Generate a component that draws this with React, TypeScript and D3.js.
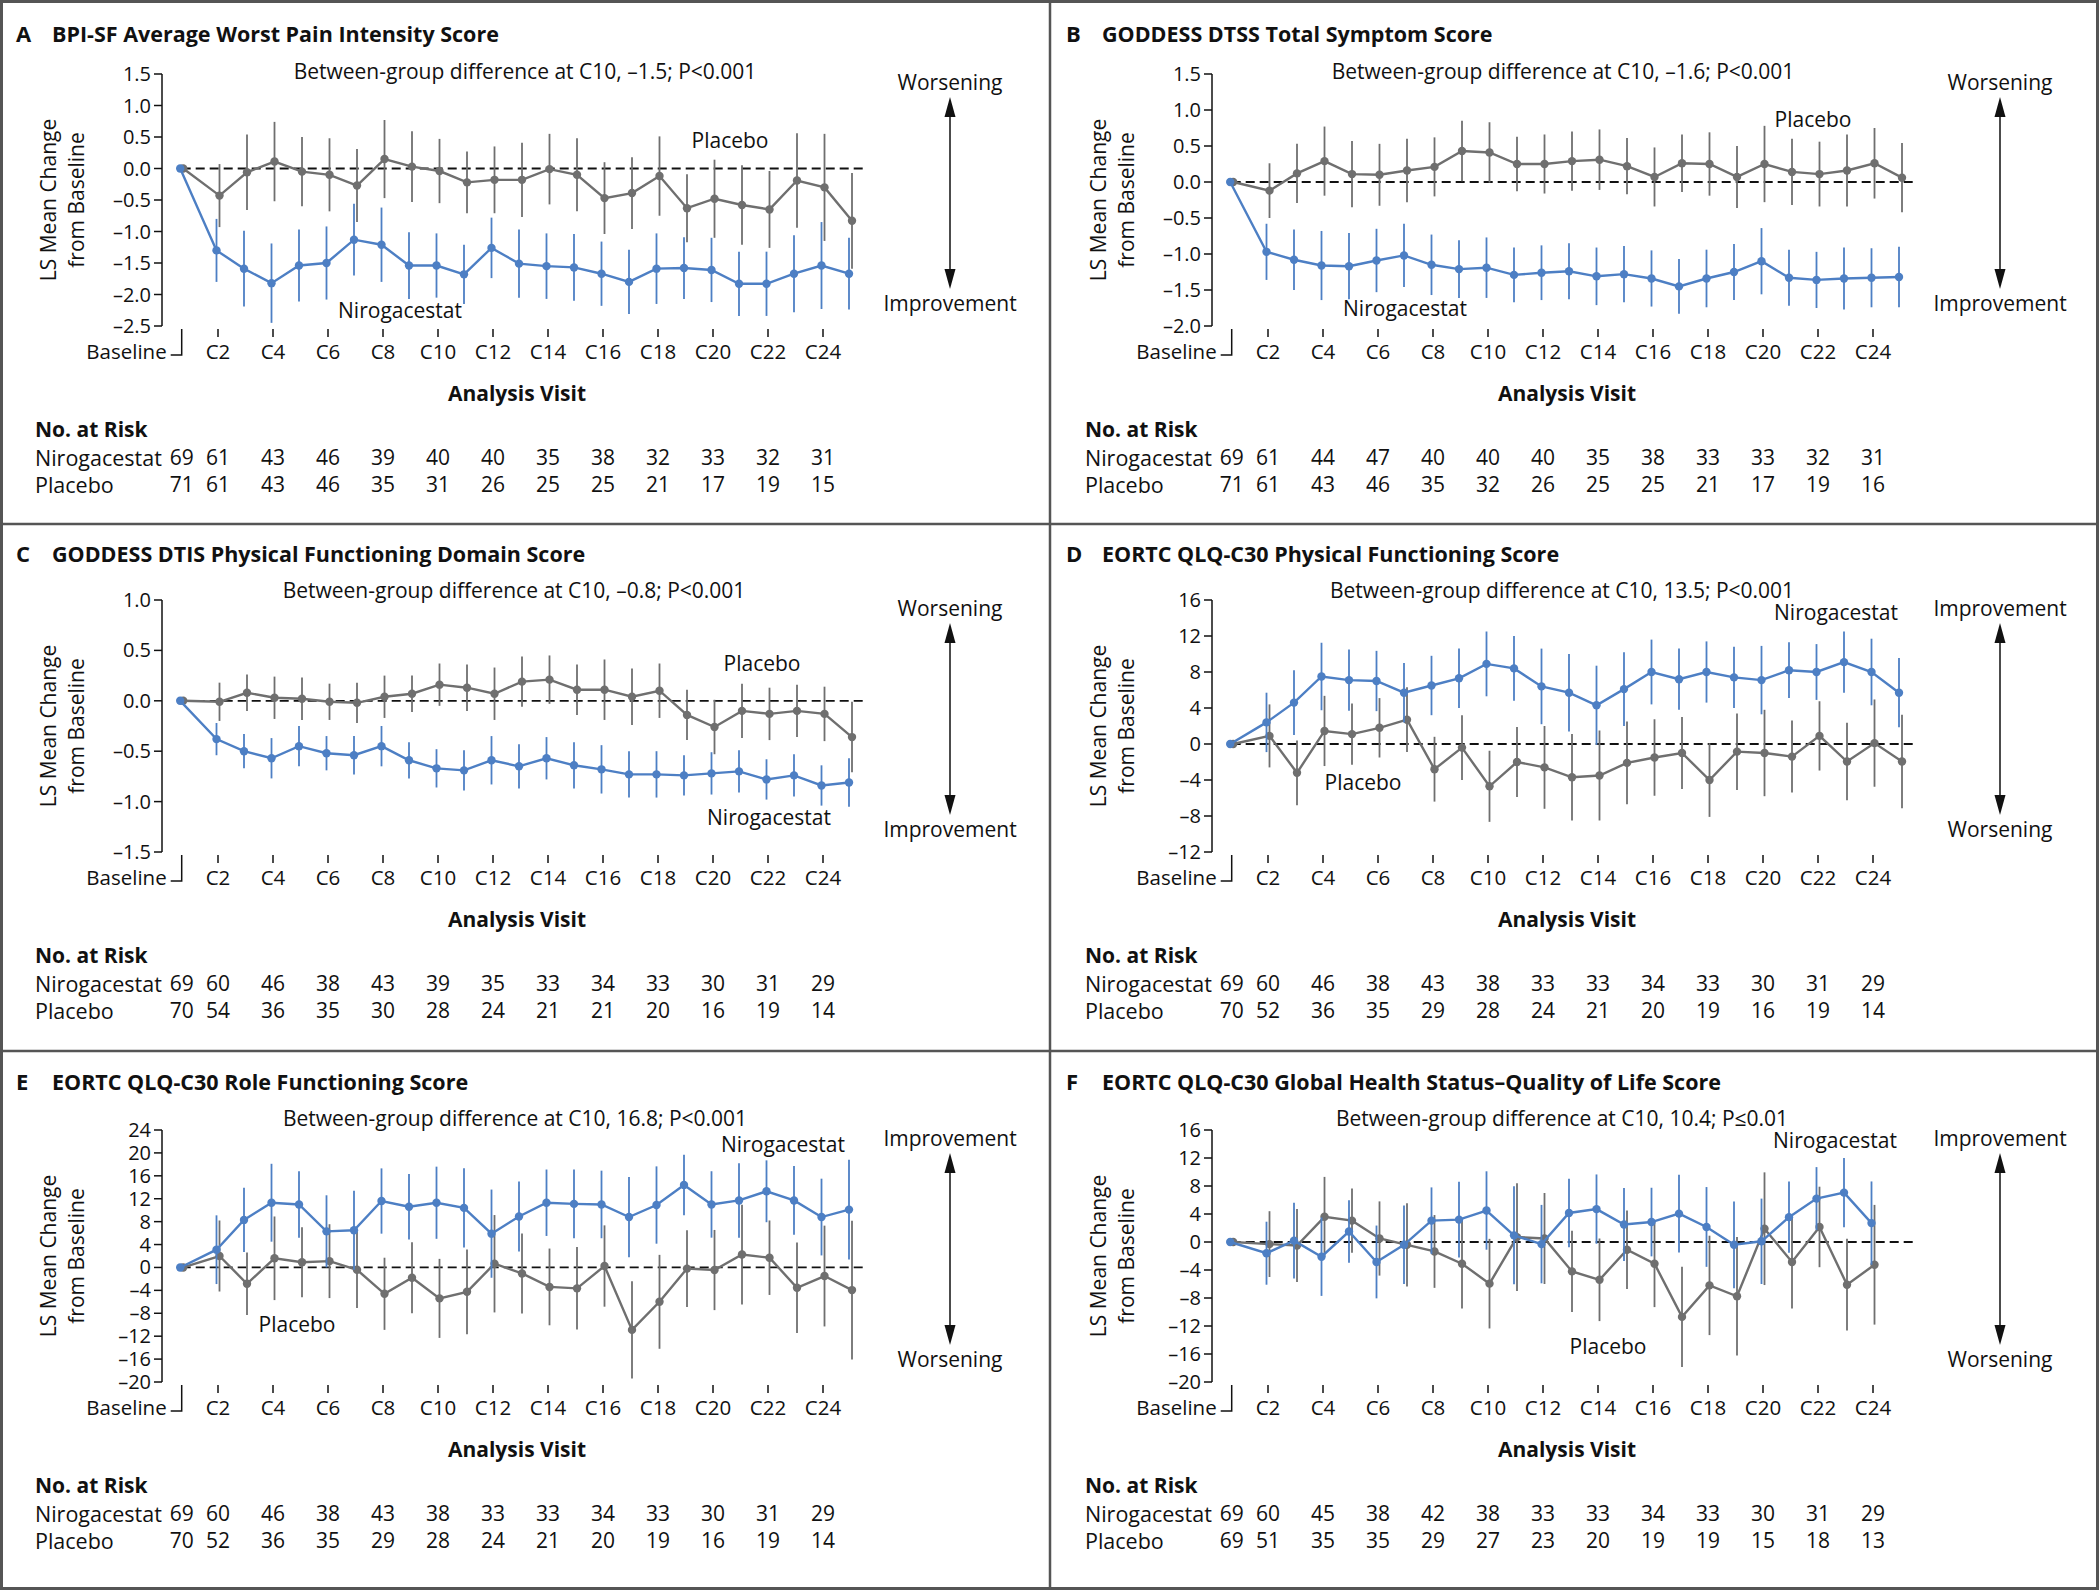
import React, {useEffect, useRef} from 'react'
import * as d3 from 'd3'

const width = 2100
const height = 1593
const font = "'Open Sans', 'DejaVu Sans', sans-serif"
const blue = '#4d7fc4'
const gray = '#6f6f6f'

// visits after baseline: C2..C25 (panel F stops at C24)
const cycles = d3.range(2, 26)
const baselinePos = 0.68
const tickCycles = d3.range(2, 25, 2)
const tickLabels = ['Baseline', ...tickCycles.map(c => `C${c}`)]

// A  BPI-SF
const aNiro = [-1.3, -1.59, -1.82, -1.54, -1.5, -1.13, -1.21, -1.54, -1.54, -1.68, -1.26, -1.51, -1.55, -1.57, -1.67, -1.8, -1.59, -1.58, -1.61, -1.83, -1.83, -1.67, -1.54, -1.67]
const aNiroErr = [0.5, 0.6, 0.63, 0.57, 0.58, 0.57, 0.59, 0.53, 0.51, 0.47, 0.48, 0.54, 0.52, 0.53, 0.51, 0.51, 0.56, 0.49, 0.51, 0.51, 0.51, 0.61, 0.69, 0.57]
const aPlac = [-0.43, -0.06, 0.11, -0.05, -0.1, -0.27, 0.15, 0.03, -0.04, -0.22, -0.18, -0.18, -0.01, -0.1, -0.47, -0.39, -0.12, -0.63, -0.48, -0.58, -0.65, -0.19, -0.3, -0.83]
const aPlacErr = [0.5, 0.6, 0.63, 0.55, 0.58, 0.58, 0.62, 0.56, 0.51, 0.49, 0.53, 0.59, 0.56, 0.58, 0.57, 0.57, 0.63, 0.54, 0.62, 0.63, 0.61, 0.75, 0.85, 0.76]
const aRiskNiro = [69, 61, 43, 46, 39, 40, 40, 35, 38, 32, 33, 32, 31]
const aRiskPlac = [71, 61, 43, 46, 35, 31, 26, 25, 25, 21, 17, 19, 15]

// B  GODDESS DTSS
const bNiro = [-0.97, -1.08, -1.16, -1.17, -1.09, -1.02, -1.15, -1.21, -1.19, -1.29, -1.26, -1.24, -1.31, -1.28, -1.34, -1.45, -1.34, -1.25, -1.1, -1.33, -1.36, -1.34, -1.33, -1.32]
const bNiroErr = [0.39, 0.42, 0.48, 0.46, 0.44, 0.44, 0.42, 0.4, 0.42, 0.38, 0.38, 0.39, 0.4, 0.39, 0.39, 0.38, 0.4, 0.39, 0.46, 0.39, 0.39, 0.43, 0.41, 0.42]
const bPlac = [-0.12, 0.12, 0.29, 0.11, 0.1, 0.16, 0.21, 0.43, 0.41, 0.25, 0.25, 0.29, 0.31, 0.22, 0.07, 0.26, 0.25, 0.07, 0.25, 0.14, 0.11, 0.16, 0.26, 0.06]
const bPlacErr = [0.38, 0.41, 0.48, 0.46, 0.43, 0.44, 0.41, 0.42, 0.42, 0.38, 0.41, 0.41, 0.42, 0.39, 0.41, 0.4, 0.44, 0.43, 0.53, 0.46, 0.45, 0.5, 0.49, 0.48]
const bRiskNiro = [69, 61, 44, 47, 40, 40, 40, 35, 38, 33, 33, 32, 31]
const bRiskPlac = [71, 61, 43, 46, 35, 32, 26, 25, 25, 21, 17, 19, 16]

// C  GODDESS DTIS
const cNiro = [-0.38, -0.5, -0.57, -0.45, -0.52, -0.54, -0.45, -0.59, -0.67, -0.69, -0.59, -0.65, -0.57, -0.64, -0.68, -0.73, -0.73, -0.74, -0.72, -0.7, -0.78, -0.74, -0.84, -0.81]
const cNiroErr = [0.16, 0.17, 0.2, 0.2, 0.17, 0.19, 0.2, 0.18, 0.19, 0.2, 0.24, 0.22, 0.21, 0.23, 0.24, 0.23, 0.23, 0.2, 0.21, 0.21, 0.2, 0.21, 0.2, 0.24]
const cPlac = [-0.01, 0.08, 0.03, 0.02, -0.01, -0.02, 0.04, 0.07, 0.16, 0.13, 0.07, 0.19, 0.21, 0.11, 0.11, 0.04, 0.1, -0.14, -0.26, -0.1, -0.13, -0.1, -0.13, -0.36]
const cPlacErr = [0.19, 0.18, 0.21, 0.21, 0.18, 0.2, 0.21, 0.18, 0.21, 0.23, 0.26, 0.25, 0.24, 0.25, 0.3, 0.28, 0.27, 0.25, 0.27, 0.27, 0.26, 0.26, 0.27, 0.35]
const cRiskNiro = [69, 60, 46, 38, 43, 39, 35, 33, 34, 33, 30, 31, 29]
const cRiskPlac = [70, 54, 36, 35, 30, 28, 24, 21, 21, 20, 16, 19, 14]

// D  EORTC physical functioning
const dNiro = [2.4, 4.6, 7.5, 7.1, 7.0, 5.7, 6.5, 7.3, 8.9, 8.4, 6.4, 5.7, 4.3, 6.1, 8.0, 7.2, 8.0, 7.4, 7.1, 8.2, 8.0, 9.1, 8.0, 5.7]
const dNiroErr = [3.3, 3.6, 3.75, 3.4, 3.35, 3.3, 3.3, 3.3, 3.6, 3.6, 4.2, 4.3, 4.4, 4.1, 3.6, 3.4, 3.4, 3.4, 3.8, 3.1, 3.1, 3.4, 3.7, 3.85]
const dPlac = [0.9, -3.2, 1.45, 1.1, 1.8, 2.7, -2.8, -0.4, -4.7, -2.0, -2.6, -3.7, -3.5, -2.1, -1.5, -1.0, -4.0, -0.85, -1.0, -1.4, 0.9, -1.95, 0.1, -1.95]
const dPlacErr = [3.5, 3.6, 3.9, 3.4, 3.3, 3.6, 3.6, 3.6, 3.95, 3.9, 4.6, 4.8, 5.0, 4.6, 4.25, 4.0, 4.1, 4.25, 4.8, 4.0, 3.85, 4.3, 4.85, 5.2]
const dRiskNiro = [69, 60, 46, 38, 43, 38, 33, 33, 34, 33, 30, 31, 29]
const dRiskPlac = [70, 52, 36, 35, 29, 28, 24, 21, 20, 19, 16, 19, 14]

// E  EORTC role functioning
const eNiro = [3.1, 8.3, 11.3, 11.0, 6.3, 6.5, 11.6, 10.6, 11.3, 10.4, 5.9, 8.9, 11.3, 11.1, 11.0, 8.8, 10.9, 14.4, 11.0, 11.7, 13.3, 11.7, 8.8, 10.1]
const eNiroErr = [6.0, 5.6, 6.8, 5.8, 6.3, 6.9, 5.7, 5.7, 6.3, 6.9, 7.7, 6.1, 5.8, 6.0, 5.9, 7.0, 6.75, 5.3, 5.8, 6.5, 5.4, 6.0, 6.7, 8.7]
const ePlac = [2.0, -2.85, 1.6, 0.9, 1.1, -0.4, -4.6, -1.8, -5.4, -4.25, 0.65, -1.05, -3.4, -3.65, 0.25, -10.9, -6.0, -0.2, -0.45, 2.25, 1.7, -3.55, -1.5, -3.95]
const ePlacErr = [6.2, 5.45, 7.3, 6.1, 6.45, 6.7, 6.3, 6.2, 6.9, 7.4, 8.5, 7.0, 6.7, 7.2, 7.1, 8.5, 8.2, 6.7, 7.0, 8.7, 6.5, 7.9, 8.8, 12.1]
const eRiskNiro = [69, 60, 46, 38, 43, 38, 33, 33, 34, 33, 30, 31, 29]
const eRiskPlac = [70, 52, 36, 35, 29, 28, 24, 21, 20, 19, 16, 19, 14]

// F  EORTC global health status (C2..C24)
const fNiro = [-1.6, 0.2, -2.1, 1.5, -2.85, -0.4, 3.05, 3.2, 4.5, 0.95, -0.3, 4.15, 4.7, 2.5, 2.85, 4.05, 2.15, -0.4, 0.1, 3.55, 6.2, 7.05, 2.7]
const fNiroErr = [4.5, 5.4, 5.6, 4.45, 5.2, 5.6, 4.75, 5.4, 5.6, 7.0, 5.6, 4.9, 4.95, 5.2, 4.9, 5.55, 5.7, 6.2, 6.1, 5.1, 4.5, 4.95, 5.95]
const fPlac = [-0.3, -0.5, 3.6, 3.05, 0.5, -0.4, -1.35, -3.1, -5.95, 0.7, 0.5, -4.2, -5.4, -1.1, -3.1, -10.7, -6.2, -7.75, 1.9, -2.85, 2.15, -6.1, -3.25]
const fPlacErr = [4.7, 5.2, 5.7, 4.6, 5.3, 5.95, 5.2, 6.4, 6.4, 7.7, 6.5, 5.8, 5.9, 5.6, 6.2, 7.15, 7.1, 8.45, 8.05, 6.65, 5.75, 6.55, 8.55]
const fRiskNiro = [69, 60, 45, 38, 42, 38, 33, 33, 34, 33, 30, 31, 29]
const fRiskPlac = [69, 51, 35, 35, 29, 27, 23, 20, 19, 19, 15, 18, 13]

const colX = [0, 1050]
const rowY = [0, 526, 1056]
const titleY = [34, 28, 26]
const diffY = [72, 65, 63]

const panels = [
  {letter: 'A', title: 'BPI-SF Average Worst Pain Intensity Score', col: 0, row: 0,
    diff: 'Between-group difference at C10, \u20131.5; P<0.001', diffX: 525,
    yDomain: [-2.5, 1.5], yStep: 0.5, dec: 1,
    niro: aNiro, niroErr: aNiroErr, plac: aPlac, placErr: aPlacErr, riskNiro: aRiskNiro, riskPlac: aRiskPlac,
    up: 'Worsening', down: 'Improvement', niroLab: [400, 311], placLab: [730, 141]},
  {letter: 'B', title: 'GODDESS DTSS Total Symptom Score', col: 1, row: 0,
    diff: 'Between-group difference at C10, \u20131.6; P<0.001', diffX: 513,
    yDomain: [-2.0, 1.5], yStep: 0.5, dec: 1,
    niro: bNiro, niroErr: bNiroErr, plac: bPlac, placErr: bPlacErr, riskNiro: bRiskNiro, riskPlac: bRiskPlac,
    up: 'Worsening', down: 'Improvement', niroLab: [355, 309], placLab: [763, 120]},
  {letter: 'C', title: 'GODDESS DTIS Physical Functioning Domain Score', col: 0, row: 1,
    diff: 'Between-group difference at C10, \u20130.8; P<0.001', diffX: 514,
    yDomain: [-1.5, 1.0], yStep: 0.5, dec: 1,
    niro: cNiro, niroErr: cNiroErr, plac: cPlac, placErr: cPlacErr, riskNiro: cRiskNiro, riskPlac: cRiskPlac,
    up: 'Worsening', down: 'Improvement', niroLab: [769, 292], placLab: [762, 138]},
  {letter: 'D', title: 'EORTC QLQ-C30 Physical Functioning Score', col: 1, row: 1,
    diff: 'Between-group difference at C10, 13.5; P<0.001', diffX: 512,
    yDomain: [-12, 16], yStep: 4, dec: 0,
    niro: dNiro, niroErr: dNiroErr, plac: dPlac, placErr: dPlacErr, riskNiro: dRiskNiro, riskPlac: dRiskPlac,
    up: 'Improvement', down: 'Worsening', niroLab: [786, 87], placLab: [313, 257]},
  {letter: 'E', title: 'EORTC QLQ-C30 Role Functioning Score', col: 0, row: 2,
    diff: 'Between-group difference at C10, 16.8; P<0.001', diffX: 515,
    yDomain: [-20, 24], yStep: 4, dec: 0,
    niro: eNiro, niroErr: eNiroErr, plac: ePlac, placErr: ePlacErr, riskNiro: eRiskNiro, riskPlac: eRiskPlac,
    up: 'Improvement', down: 'Worsening', niroLab: [783, 89], placLab: [297, 269]},
  {letter: 'F', title: 'EORTC QLQ-C30 Global Health Status\u2013Quality of Life Score', col: 1, row: 2,
    diff: 'Between-group difference at C10, 10.4; P\u22640.01', diffX: 512,
    yDomain: [-20, 16], yStep: 4, dec: 0,
    niro: fNiro, niroErr: fNiroErr, plac: fPlac, placErr: fPlacErr, riskNiro: fRiskNiro, riskPlac: fRiskPlac,
    up: 'Improvement', down: 'Worsening', niroLab: [785, 85], placLab: [558, 291]},
]

const fmt = (v, dec) => d3.format(`.${dec}f`)(v).replace(/[-\u2212]/g, '\u2013')

const App = () => {
  const chartRef = useRef(null)

  useEffect(() => {
    const svg = d3.select(chartRef.current)
    svg.selectAll('*').remove()
    svg.append('rect').attr('width', width).attr('height', height).attr('fill', '#fff')
    panels.forEach(p => drawPanel(svg, p))

    // frame and dividers
    const frame = svg.append('g').attr('fill', 'none').attr('stroke', '#555').attr('stroke-width', 3)
    frame.append('rect').attr('x', 1.5).attr('y', 1.5).attr('width', 2096).attr('height', 1587)
    frame.append('line').attr('x1', 1050).attr('x2', 1050).attr('y1', 1.5).attr('y2', 1588.5).attr('stroke-width', 2.5)
    frame.append('line').attr('x1', 1.5).attr('x2', 2097.5).attr('y1', 524).attr('y2', 524).attr('stroke-width', 2.5)
    frame.append('line').attr('x1', 1.5).attr('x2', 2097.5).attr('y1', 1051).attr('y2', 1051).attr('stroke-width', 2.5)
  }, [])

  const drawPanel = (svg, p) => {
    const g = svg.append('g')
      .attr('transform', `translate(${colX[p.col]},${rowY[p.row]})`)
      .style('font-family', font)
    const x = d3.scaleLinear().domain([2, 24]).range([218, 823])
    const y = d3.scaleLinear().domain(p.yDomain).range([326, 74])
    const bx = x(baselinePos)

    // title
    const title = g.append('text').attr('x', 16).attr('y', titleY[p.row]).attr('dy', '0.35em')
      .style('font-size', '21.5px').style('font-weight', 700).attr('fill', '#111')
    title.append('tspan').text(p.letter).style('font-size', '22px')
    title.append('tspan').attr('x', 52).text(p.title)

    g.append('text').attr('x', p.diffX).attr('y', diffY[p.row]).attr('dy', '0.35em')
      .attr('text-anchor', 'middle').style('font-size', '21px').attr('fill', '#111')
      .text(p.diff)

    // y axis
    const yTicks = d3.range(p.yDomain[0], p.yDomain[1] + p.yStep / 2, p.yStep)
    g.append('line').attr('x1', 162).attr('x2', 162).attr('y1', y(p.yDomain[0])).attr('y2', y(p.yDomain[1]))
      .attr('stroke', '#111').attr('stroke-width', 1.5)
    const yt = g.append('g').selectAll('g').data(yTicks).enter().append('g')
    yt.append('line').attr('x1', 154).attr('x2', 162).attr('y1', d => y(d)).attr('y2', d => y(d))
      .attr('stroke', '#111').attr('stroke-width', 1.5)
    yt.append('text').attr('x', 151).attr('y', d => y(d)).attr('dy', '0.35em')
      .attr('text-anchor', 'end').style('font-size', '20px').attr('fill', '#111')
      .text(d => fmt(d, p.dec))

    // y axis title
    const yl = g.append('text').attr('transform', `translate(49,200) rotate(-90)`)
      .attr('text-anchor', 'middle').style('font-size', '21px').attr('fill', '#111')
    yl.append('tspan').attr('x', 0).attr('dy', '0.35em').text('LS Mean Change')
    yl.append('tspan').attr('x', 0).attr('dy', '1.3em').text('from Baseline')

    // x ticks
    g.append('g').selectAll('line').data(tickCycles).enter().append('line')
      .attr('x1', d => x(d)).attr('x2', d => x(d)).attr('y1', 329).attr('y2', 337)
      .attr('stroke', '#111').attr('stroke-width', 1.5)
    g.append('path').attr('d', `M${bx},329V355H${bx - 11}`).attr('fill', 'none')
      .attr('stroke', '#111').attr('stroke-width', 1.5)
    const xPos = [bx, ...tickCycles.map(c => x(c))]
    g.append('g').selectAll('text').data(tickLabels).enter().append('text')
      .attr('x', (d, i) => (i === 0 ? bx - 15 : xPos[i]))
      .attr('y', 352).attr('dy', '0.35em')
      .attr('text-anchor', (d, i) => (i === 0 ? 'end' : 'middle'))
      .style('font-size', '20.5px').attr('fill', '#111')
      .text(d => d)

    g.append('text').attr('x', 517).attr('y', 394).attr('dy', '0.35em').attr('text-anchor', 'middle')
      .style('font-size', '21px').style('font-weight', 700).attr('fill', '#111').text('Analysis Visit')

    // zero reference
    g.append('line').attr('x1', bx).attr('x2', 865).attr('y1', y(0)).attr('y2', y(0))
      .attr('stroke', '#111').attr('stroke-width', 1.8).attr('stroke-dasharray', '9,5')

    // series
    const series = [
      {vals: p.plac, err: p.placErr, color: gray, dx: 1.5},
      {vals: p.niro, err: p.niroErr, color: blue, dx: -1.5},
    ]
    series.forEach(s => {
      const pts = [{c: baselinePos, v: 0, e: 0}, ...s.vals.map((v, i) => ({c: cycles[i], v, e: s.err[i]}))]
      const sg = g.append('g')
      sg.selectAll('line').data(pts.slice(1)).enter().append('line')
        .attr('x1', d => x(d.c) + s.dx).attr('x2', d => x(d.c) + s.dx)
        .attr('y1', d => y(d.v + d.e)).attr('y2', d => y(d.v - d.e))
        .attr('stroke', s.color).attr('stroke-width', 1.8)
      sg.append('path').datum(pts)
        .attr('d', d3.line().x(d => x(d.c) + s.dx).y(d => y(d.v)))
        .attr('fill', 'none').attr('stroke', s.color).attr('stroke-width', 2.4)
      sg.selectAll('circle').data(pts).enter().append('circle')
        .attr('cx', d => x(d.c) + s.dx).attr('cy', d => y(d.v)).attr('r', 4.2)
        .attr('fill', s.color)
    })

    g.append('text').attr('x', p.niroLab[0]).attr('y', p.niroLab[1]).attr('dy', '0.35em')
      .attr('text-anchor', 'middle').style('font-size', '21px').attr('fill', '#111').text('Nirogacestat')
    g.append('text').attr('x', p.placLab[0]).attr('y', p.placLab[1]).attr('dy', '0.35em')
      .attr('text-anchor', 'middle').style('font-size', '21px').attr('fill', '#111').text('Placebo')

    // direction arrow
    const ax = 950
    g.append('text').attr('x', ax).attr('y', 83).attr('dy', '0.35em').attr('text-anchor', 'middle')
      .style('font-size', '21px').attr('fill', '#111').text(p.up)
    g.append('text').attr('x', ax).attr('y', 304).attr('dy', '0.35em').attr('text-anchor', 'middle')
      .style('font-size', '21px').attr('fill', '#111').text(p.down)
    g.append('line').attr('x1', ax).attr('x2', ax).attr('y1', 110).attr('y2', 276)
      .attr('stroke', '#111').attr('stroke-width', 1.5)
    g.append('path').attr('d', `M${ax},97L${ax - 5.5},117L${ax + 5.5},117Z`).attr('fill', '#111')
    g.append('path').attr('d', `M${ax},289L${ax - 5.5},269L${ax + 5.5},269Z`).attr('fill', '#111')

    // number at risk
    g.append('text').attr('x', 35).attr('y', 430).attr('dy', '0.35em')
      .style('font-size', '21px').style('font-weight', 700).attr('fill', '#111').text('No. at Risk')
    const rows = [
      {name: 'Nirogacestat', vals: p.riskNiro, yy: 458},
      {name: 'Placebo', vals: p.riskPlac, yy: 485},
    ]
    rows.forEach(r => {
      g.append('text').attr('x', 35).attr('y', r.yy).attr('dy', '0.35em')
        .style('font-size', '21.5px').attr('fill', '#111').text(r.name)
      g.append('g').selectAll('text').data(r.vals).enter().append('text')
        .attr('x', (d, i) => xPos[i]).attr('y', r.yy).attr('dy', '0.35em')
        .attr('text-anchor', 'middle').style('font-size', '21px').attr('fill', '#111')
        .text(d => d)
    })
  }

  return (
    <div style={{position: 'absolute', left: 0, top: 0}}>
      <svg ref={chartRef} width={width} height={height} style={{display: 'block'}}></svg>
    </div>
  )
}

export default App
